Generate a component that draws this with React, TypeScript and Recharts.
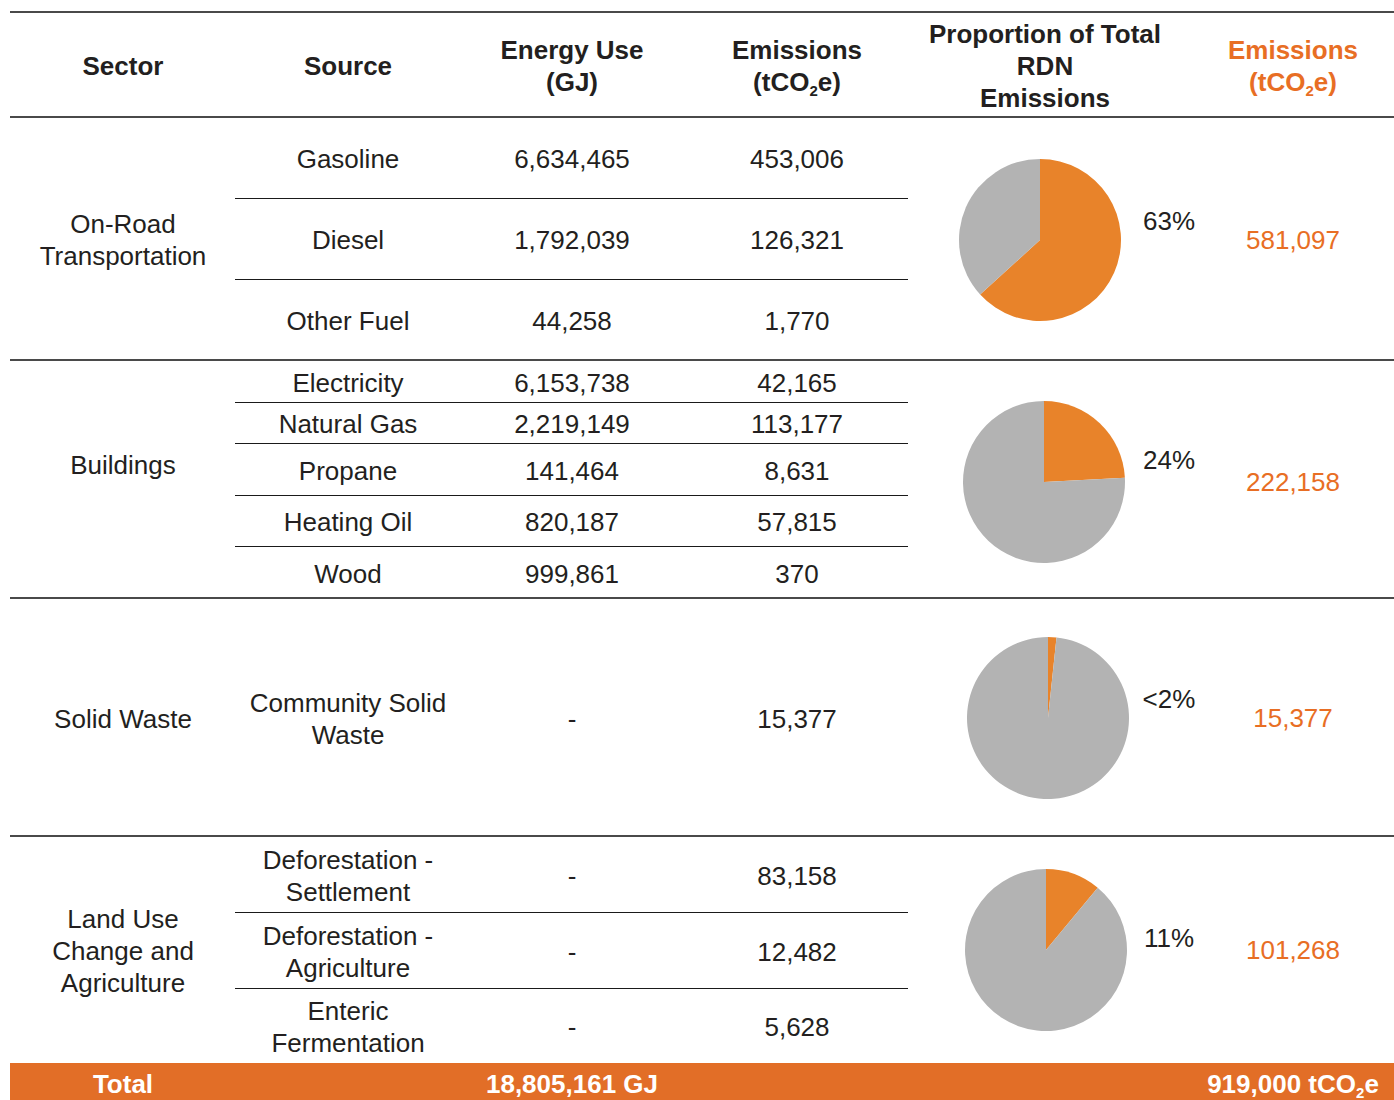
import { PieChart, Pie, Cell } from "recharts";

// table data
const sectorNames = ["On-Road\nTransportation", "Buildings", "Solid Waste", "Land Use\nChange and\nAgriculture"];
const sourceNames = [
    "Gasoline", "Diesel", "Other Fuel",
    "Electricity", "Natural Gas", "Propane", "Heating Oil", "Wood",
    "Community Solid\nWaste",
    "Deforestation -\nSettlement", "Deforestation -\nAgriculture", "Enteric\nFermentation"
];
const sourceSector = [0, 0, 0, 1, 1, 1, 1, 1, 2, 3, 3, 3];
const energyUse = [6634465, 1792039, 44258, 6153738, 2219149, 141464, 820187, 999861, null, null, null, null];
const emissions = [453006, 126321, 1770, 42165, 113177, 8631, 57815, 370, 15377, 83158, 12482, 5628];
const sectorEmissions = [581097, 222158, 15377, 101268];
const proportionLabels = ["63%", "24%", "<2%", "11%"];
const totalEnergy = 18805161;
const totalEmissions = 919000;

// layout
const rowBounds = [
    [117, 198], [198, 279], [279, 360],
    [360, 402], [402, 443], [443, 495], [495, 546], [546, 598],
    [598, 836],
    [836, 912], [912, 988], [988, 1063]
];
const sectorBounds = [[117, 360], [360, 598], [598, 836], [836, 1063]];
const sectorLabelY = [240, 465, 719, 951];
const pieCenters = [[1040, 240], [1044, 482], [1048, 718], [1046, 950]];
const percentLabelY = [221, 460, 699, 938];

const ORANGE = "#E8832A";
const TEXT_ORANGE = "#E86E24";
const GREY = "#B3B3B3";
const INK = "#231F20";
const FONT = "'Liberation Sans', Arial, Helvetica, sans-serif";

const fmt = (v: number | null) => (v === null ? "-" : v.toLocaleString("en-US"));

const Txt = ({ x, y, children, color = INK, bold = false, w = 240 }: any) => (
    <div
        style={{
            position: "absolute", left: x - w / 2, top: y, width: w,
            transform: "translateY(-50%)", textAlign: "center",
            whiteSpace: "pre-line", lineHeight: "32px", fontSize: 26,
            fontWeight: bold ? 700 : 400, color
        }}
    >
        {children}
    </div>
);

const HLine = ({ x1, x2, y, thick = false }: any) => (
    <div
        style={{
            position: "absolute", left: x1, top: y - (thick ? 1 : 0.5), width: x2 - x1,
            height: thick ? 2 : 1, background: thick ? "#4a4a4a" : "#1a1a1a"
        }}
    />
);

const CO2 = () => (
    <>tCO<sub style={{ fontSize: 15, verticalAlign: "-5px", lineHeight: 0 }}>2</sub>e</>
);

const App = () => {
    return (
        <div
            style={{
                position: "absolute", left: 0, top: 0, width: 1394, height: 1100,
                overflow: "hidden", background: "#fff", fontFamily: FONT
            }}
        >
            {/* header */}
            <HLine x1={10} x2={1394} y={12} thick />
            <Txt x={123} y={66} bold>Sector</Txt>
            <Txt x={348} y={66} bold>Source</Txt>
            <Txt x={572} y={66} bold>{"Energy Use\n(GJ)"}</Txt>
            <Txt x={797} y={66} bold>Emissions<br />(<CO2 />)</Txt>
            <Txt x={1045} y={66} bold w={300}>{"Proportion of Total\nRDN\nEmissions"}</Txt>
            <Txt x={1293} y={66} bold color={TEXT_ORANGE}>Emissions<br />(<CO2 />)</Txt>
            <HLine x1={10} x2={1394} y={117} thick />

            {/* source rows */}
            {sourceNames.map((name, i) => {
                const [top, bottom] = rowBounds[i];
                const cy = (top + bottom) / 2 + 1.5;
                const s = sourceSector[i];
                const isLast = i === sourceNames.length - 1 || sourceSector[i + 1] !== s;
                return (
                    <div key={name}>
                        <Txt x={348} y={cy}>{name}</Txt>
                        <Txt x={572} y={cy}>{fmt(energyUse[i])}</Txt>
                        <Txt x={797} y={cy}>{fmt(emissions[i])}</Txt>
                        {!isLast && <HLine x1={235} x2={908} y={bottom} />}
                    </div>
                );
            })}

            {/* sectors */}
            {sectorNames.map((name, s) => {
                const [cx, cy] = pieCenters[s];
                const pieData = [
                    { name: "sector", value: sectorEmissions[s] },
                    { name: "rest", value: totalEmissions - sectorEmissions[s] }
                ];
                return (
                    <div key={name}>
                        <Txt x={123} y={sectorLabelY[s]}>{name}</Txt>
                        <div style={{ position: "absolute", left: cx - 90, top: cy - 90 }}>
                            <PieChart width={180} height={180} margin={{ top: 0, right: 0, bottom: 0, left: 0 }}>
                                <Pie
                                    data={pieData}
                                    dataKey="value"
                                    cx="50%"
                                    cy="50%"
                                    outerRadius={81}
                                    startAngle={90}
                                    endAngle={-270}
                                    stroke="none"
                                    isAnimationActive={false}
                                >
                                    <Cell fill={ORANGE} />
                                    <Cell fill={GREY} />
                                </Pie>
                            </PieChart>
                        </div>
                        <Txt x={1169} y={percentLabelY[s]} w={100}>{proportionLabels[s]}</Txt>
                        <Txt x={1293} y={cy} color={TEXT_ORANGE}>{fmt(sectorEmissions[s])}</Txt>
                        {s < sectorNames.length - 1 && <HLine x1={10} x2={1394} y={sectorBounds[s][1]} thick />}
                    </div>
                );
            })}

            {/* total bar */}
            <div style={{ position: "absolute", left: 10, top: 1063, width: 1384, height: 37, background: "#E26E27" }} />
            <Txt x={123} y={1084} bold color="#fff">Total</Txt>
            <Txt x={572} y={1084} bold color="#fff" w={300}>{fmt(totalEnergy)} GJ</Txt>
            <Txt x={1293} y={1084} bold color="#fff" w={300}>{fmt(totalEmissions)} <CO2 /></Txt>
        </div>
    );
};

export default App;
